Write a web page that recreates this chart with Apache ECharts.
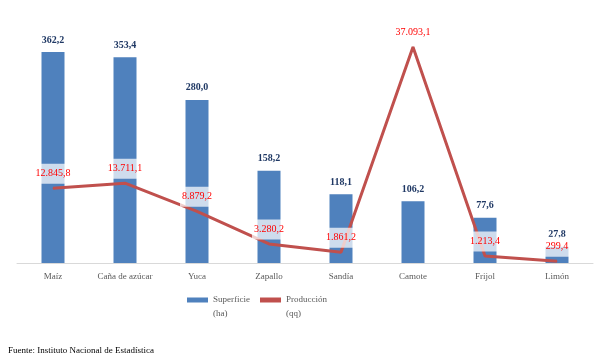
<!DOCTYPE html>
<html><head><meta charset="utf-8">
<script src="https://cdn.jsdelivr.net/npm/echarts@6/dist/echarts.min.js"></script>
<style>html,body{margin:0;padding:0;background:#fff}#c{width:613px;height:359px}</style>
</head><body><div id="c"></div>
<script>
var categories = ['Maíz','Caña de azúcar','Yuca','Zapallo','Sandía','Camote','Frijol','Limón'];
var superficie = [362.2,353.4,280.0,158.2,118.1,106.2,77.6,27.8];
var produccion = [12845.8,13711.1,8879.2,3280.2,1861.2,37093.1,1213.4,299.4];
var seriesNames = ['Superficie\n(ha)','Producción\n(qq)'];
var sourceText = 'Fuente: Instituto Nacional de Estadística';

function fmt(v){
  var s = v.toFixed(1).split('.');
  var ip = s[0].replace(/\B(?=(\d{3})+(?!\d))/g,'.');
  return ip + ',' + s[1];
}
var serif = '"Liberation Serif","Times New Roman",serif';
var chart = echarts.init(document.getElementById('c'));
chart.setOption({
  animation:false,
  title:{text:sourceText,left:3,top:341,textStyle:{fontFamily:serif,fontSize:9,fontWeight:'normal',color:'#000'}},
  grid:{left:17,right:20,top:30,bottom:96},
  legend:{
    left:187,top:279,padding:0,itemGap:10,itemWidth:21,itemHeight:5,
    formatter:function(n){return '\u00a0\n'+n;},
    textStyle:{fontFamily:serif,fontSize:9,color:'#595959',lineHeight:14},
    data:[{name:seriesNames[0],icon:'rect'},{name:seriesNames[1],icon:'rect',itemStyle:{color:'#C0504D'}}]
  },
  xAxis:{type:'category',data:categories,
    axisLine:{lineStyle:{color:'#D9D9D9',width:1}},axisTick:{show:false},
    axisLabel:{fontFamily:serif,fontSize:9,color:'#595959',margin:9}},
  yAxis:[{type:'value',min:0,max:400,show:false,splitLine:{show:false}},
         {type:'value',min:0,max:40000,show:false,splitLine:{show:false}}],
  series:[
    {name:seriesNames[0],type:'bar',data:superficie,barWidth:23,
     itemStyle:{color:'#4F81BD'},
     label:{show:true,position:'top',distance:7,fontFamily:serif,fontSize:10,fontWeight:'bold',color:'#1F3864',
       formatter:function(p){return fmt(p.value);}}},
    {name:seriesNames[1],type:'line',yAxisIndex:1,data:produccion,symbol:'circle',symbolSize:1,showSymbol:true,
     lineStyle:{color:'#C0504D',width:3},itemStyle:{color:'#C0504D'},
     label:{show:true,position:'top',distance:4,fontFamily:serif,fontSize:10,color:'#FF0000',
       backgroundColor:'rgba(255,255,255,0.72)',padding:[5,2],
       formatter:function(p){return fmt(p.value);}}}
  ]
});
</script></body></html>
